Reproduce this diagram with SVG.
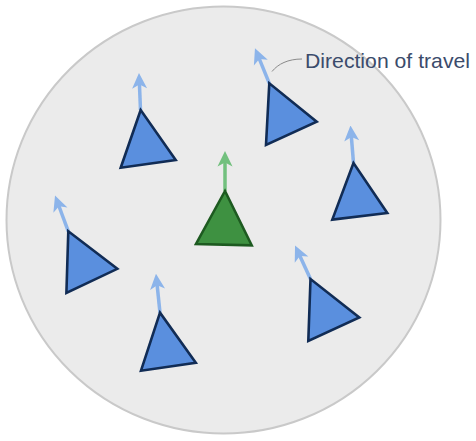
<svg xmlns="http://www.w3.org/2000/svg" width="476" height="441" viewBox="0 0 476 441">
  <defs>
    <marker id="headBlue" viewBox="0 0 16 16" refX="8" refY="8" markerWidth="16" markerHeight="16" markerUnits="userSpaceOnUse" orient="auto">
      <path d="M0.5,0.5 L16,8 L0.5,15.5 L4.5,8 Z" fill="#8cb4ea"/>
    </marker>
    <marker id="headGreen" viewBox="0 0 16 16" refX="8" refY="8" markerWidth="16" markerHeight="16" markerUnits="userSpaceOnUse" orient="auto">
      <path d="M0.5,0.5 L16,8 L0.5,15.5 L4.5,8 Z" fill="#72c07e"/>
    </marker>
  </defs>
  <style>
    .blue { fill: #5a8fde; stroke: #112c55; stroke-width: 2.6; stroke-linejoin: miter; }
    .green { fill: #3e9141; stroke: #1d5a20; stroke-width: 2.6; stroke-linejoin: miter; }
    .arrB { stroke: #8cb4ea; stroke-width: 3.5; fill: none; marker-end: url(#headBlue); }
    .arrG { stroke: #72c07e; stroke-width: 3.5; fill: none; marker-end: url(#headGreen); }
    .label { font-family: "Liberation Sans", Arial, sans-serif; font-size: 21px; fill: #3b4b6b; }
  </style>
  <rect width="476" height="441" fill="#ffffff"/>
  <g id="flock-area">
    <ellipse cx="223.5" cy="220" rx="217" ry="213.5" fill="#ebebeb" stroke="#c9c9c9" stroke-width="2"/>
  </g>
  <g id="boid-top-left">
    <line class="arrB" x1="140.5" y1="110" x2="139.3" y2="81"/>
    <polygon class="blue" points="140.7,110 120.7,167.7 175.7,160"/>
  </g>
  <g id="boid-center">
    <line class="arrG" x1="225" y1="191" x2="225" y2="159"/>
    <polygon class="green" points="225,191 196,244 251.7,245.3"/>
  </g>
  <g id="boid-top-right">
    <line class="arrB" x1="269.3" y1="83.3" x2="258" y2="55.7"/>
    <polygon class="blue" points="269.3,83.3 266,145 316.7,121.7"/>
  </g>
  <g id="boid-right">
    <line class="arrB" x1="353.5" y1="163" x2="351.1" y2="133.5"/>
    <polygon class="blue" points="353.5,163 332.3,219.6 387.3,213"/>
  </g>
  <g id="boid-lower-right">
    <line class="arrB" x1="310.5" y1="279" x2="298.4" y2="252.8"/>
    <polygon class="blue" points="310.5,279 308.3,341 359.3,317.5"/>
  </g>
  <g id="boid-left">
    <line class="arrB" x1="68.3" y1="231.3" x2="57.8" y2="203"/>
    <polygon class="blue" points="68.3,231.3 66.4,293 117.3,268.8"/>
  </g>
  <g id="boid-lower-middle">
    <line class="arrB" x1="160" y1="312.7" x2="156.8" y2="281.8"/>
    <polygon class="blue" points="160,312.7 141,370.7 195.8,362.7"/>
  </g>
  <g id="label-direction">
    <path d="M302,59 C288,59 278,64 272,71.5" fill="none" stroke="#8a8a8a" stroke-width="1"/>
    <text class="label" x="305" y="67.5" textLength="165" lengthAdjust="spacingAndGlyphs">Direction of travel</text>
  </g>
</svg>
